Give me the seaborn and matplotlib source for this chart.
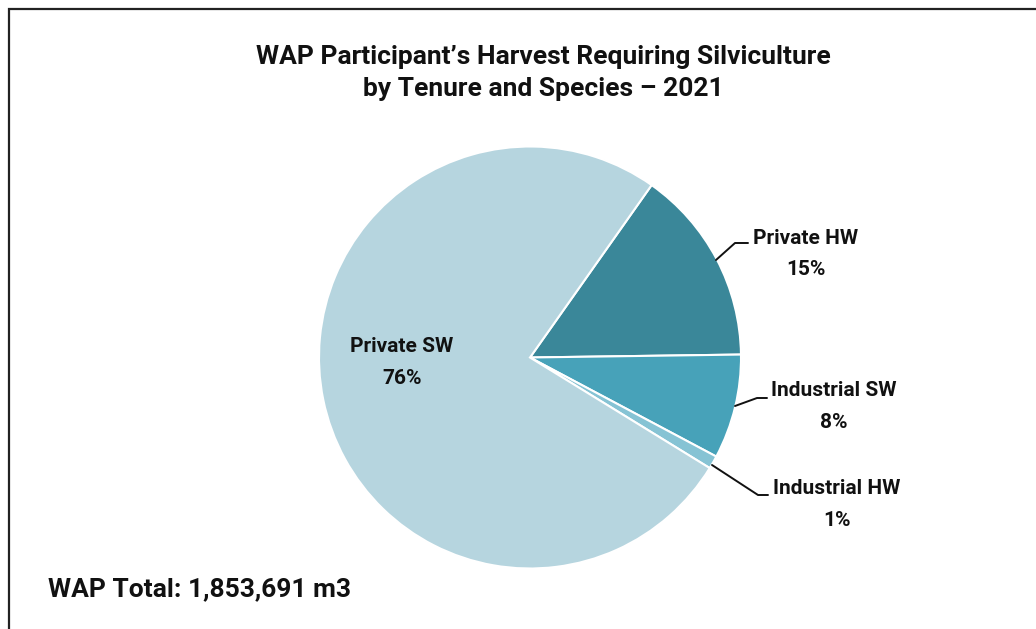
import matplotlib
matplotlib.use("Agg")
import matplotlib.pyplot as plt
from matplotlib.patches import Rectangle
import seaborn as sns

# Harvest share by tenure and species (percent of total volume)
categories = ["Private HW", "Industrial SW", "Industrial HW", "Private SW"]
shares = [15, 8, 1, 76]
colors = ["#3a8799", "#47a2b9", "#86c3d4", "#b6d5df"]
title = "WAP Participant\u2019s Harvest Requiring Silviculture\nby Tenure and Species \u2013 2021"
total_text = "WAP Total: 1,853,691 m3"

sns.set_theme(style="white")
plt.rcParams["font.family"] = ["Roboto", "DejaVu Sans"]

W, H = 1036, 629
fig = plt.figure(figsize=(W / 100, H / 100), dpi=100)
fig.patch.set_facecolor("white")

# Outer frame (runs off the right and bottom edges)
fig.add_artist(Rectangle((9 / W, -0.05), 1.2, 1 - 9 / H + 0.05, transform=fig.transFigure,
                         fill=False, edgecolor="#222222", linewidth=1.6))

cx, cy, r = 530, 357.5, 211
ax = fig.add_axes([(cx - r) / W, (H - cy - r) / H, 2 * r / W, 2 * r / H])
wedges, _ = ax.pie(shares, colors=colors, startangle=54.8, counterclock=False,
                   wedgeprops=dict(edgecolor="white", linewidth=1.5))
ax.set_xlim(-1, 1)
ax.set_ylim(-1, 1)
ax.set_aspect("equal")
for w in wedges:
    w.set_clip_on(False)


def px(x, y):
    return x / W, 1 - y / H


fig.text(*px(543, 73), title, ha="center", va="center", fontsize=19,
         fontweight="bold", color="#111111", linespacing=1.47)

label_font = dict(fontsize=15, fontweight="bold", color="#111111", ha="center",
                  va="center", linespacing=1.85)

# Label inside the large slice
fig.text(*px(402, 362.5), f"{categories[3]}\n{shares[3]}%", **label_font)

# Outside labels with leader lines
outside = [
    (0, (806, 254), [(716, 260), (735, 243), (748, 243)]),
    (1, (834, 406.5), [(735, 406), (757, 398), (767, 398)]),
    (2, (837, 504.5), [(712, 465), (758, 495), (768, 495)]),
]
for idx, (tx, ty), pts in outside:
    fig.text(*px(tx, ty), f"{categories[idx]}\n{shares[idx]}%", **label_font)
    xs = [p[0] / W for p in pts]
    ys = [1 - p[1] / H for p in pts]
    fig.add_artist(plt.Line2D(xs, ys, transform=fig.transFigure, color="#111111",
                              linewidth=1.4))

fig.text(*px(48, 589), total_text, ha="left", va="center", fontsize=19,
         fontweight="bold", color="#111111")

fig.savefig("out.png", dpi=100, facecolor="white")
